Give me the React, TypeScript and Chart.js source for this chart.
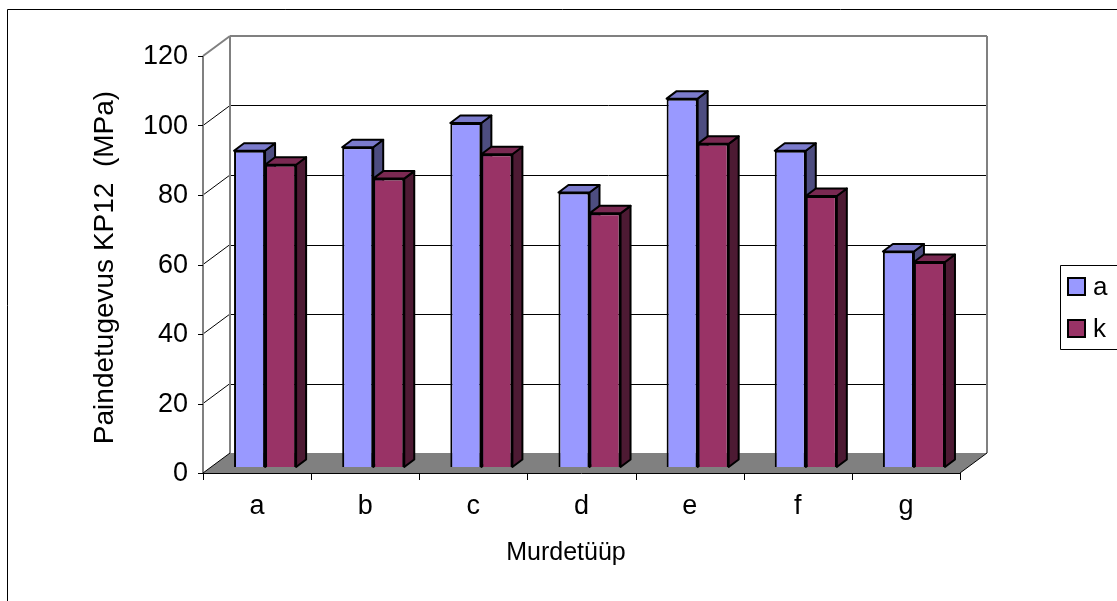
import { useEffect, useRef } from "react";
import { Chart, registerables } from "chart.js";

Chart.register(...registerables);

// Fracture types and the bending strength measured for each series
const categories = ["a", "b", "c", "d", "e", "f", "g"];
const seriesNames = ["a", "k"];
const seriesA = [91, 92, 99, 79, 106, 91, 62];
const seriesK = [87, 83, 90, 73, 93, 78, 59];
const yTicks = [0, 20, 40, 60, 80, 100, 120];

const yTitle = "Paindetugevus KP12  (MPa)";
const xTitle = "Murdetüüp";

// Front / top / side shades of each series
const faceColors = ["#9999FF", "#993366"];
const topColors = ["#7B7BCC", "#7A2952"];
const sideColors = ["#4D4D80", "#4D1A33"];

// 3D geometry (pixels)
const DEPTH_X = 27; // floor depth, horizontal component
const DEPTH_Y = -20; // floor depth, vertical component
const BAR_OFF_X = 8; // bar plane offset from the front plane
const BAR_OFF_Y = -6;
const BAR_DX = 10; // bar thickness
const BAR_DY = -7.5;

const FONT = "'Liberation Sans', Arial, sans-serif";
const WALL = "#808080";

function poly(ctx: CanvasRenderingContext2D, pts: number[][]) {
  ctx.beginPath();
  ctx.moveTo(pts[0][0], pts[0][1]);
  for (let i = 1; i < pts.length; i++) ctx.lineTo(pts[i][0], pts[i][1]);
  ctx.closePath();
}

function line(ctx: CanvasRenderingContext2D, x1: number, y1: number, x2: number, y2: number) {
  ctx.beginPath();
  ctx.moveTo(x1, y1);
  ctx.lineTo(x2, y2);
  ctx.stroke();
}

const box3d = {
  id: "box3d",
  beforeDatasetsDraw(chart: any) {
    const { ctx, chartArea: ca, scales } = chart;
    const ys = scales.y;
    const left = ca.left - BAR_OFF_X;
    const right = ca.right - BAR_OFF_X;
    const yF = (v: number) => ys.getPixelForValue(v) - BAR_OFF_Y;
    const y0 = yF(0);
    const yMax = yF(yTicks[yTicks.length - 1]);

    ctx.save();
    // floor
    ctx.fillStyle = WALL;
    poly(ctx, [
      [left, y0],
      [right, y0],
      [right + DEPTH_X, y0 + DEPTH_Y],
      [left + DEPTH_X, y0 + DEPTH_Y],
    ]);
    ctx.fill();

    // gridlines on back wall and side wall
    ctx.strokeStyle = "#000";
    ctx.lineWidth = 1;
    for (const v of yTicks) {
      if (v === 0 || v === yTicks[yTicks.length - 1]) continue;
      const yy = Math.round(yF(v) + DEPTH_Y) + 0.5;
      line(ctx, left + DEPTH_X, yy, right + DEPTH_X, yy);
      line(ctx, left, yF(v), left + DEPTH_X, yF(v) + DEPTH_Y);
    }

    // wall edges
    ctx.strokeStyle = WALL;
    ctx.lineWidth = 2;
    line(ctx, left, y0, left, yMax);
    line(ctx, left, yMax, left + DEPTH_X, yMax + DEPTH_Y);
    line(ctx, left + DEPTH_X, yMax + DEPTH_Y, right + DEPTH_X, yMax + DEPTH_Y);
    line(ctx, left + DEPTH_X, yMax + DEPTH_Y, left + DEPTH_X, y0 + DEPTH_Y);
    line(ctx, right + DEPTH_X, yMax + DEPTH_Y, right + DEPTH_X, y0 + DEPTH_Y);

    // floor edges and category axis
    ctx.strokeStyle = "#000";
    ctx.lineWidth = 1;
    line(ctx, left, y0 + 0.5, right, y0 + 0.5);
    line(ctx, left, y0, left + DEPTH_X, y0 + DEPTH_Y);
    line(ctx, right, y0, right + DEPTH_X, y0 + DEPTH_Y);

    // value axis ticks
    for (const v of yTicks) {
      const yy = Math.round(yF(v)) + 0.5;
      line(ctx, left - 5, yy, left, yy);
    }
    // category ticks
    const n = categories.length;
    const cw = (right - left) / n;
    for (let i = 0; i <= n; i++) {
      const xx = Math.round(left + i * cw) + 0.5;
      line(ctx, xx, y0, xx, y0 + 7);
    }

    // bar tops and sides, left to right so later fronts cover earlier sides
    const bars: any[] = [];
    chart.data.datasets.forEach((_: any, di: number) => {
      chart.getDatasetMeta(di).data.forEach((el: any) => bars.push({ el, di }));
    });
    bars.sort((a, b) => a.el.x - b.el.x);
    ctx.lineWidth = 2;
    ctx.lineJoin = "round";
    for (const { el, di } of bars) {
      const bl = el.x - el.width / 2;
      const br = el.x + el.width / 2;
      const top = el.y;
      const base = el.base;
      ctx.strokeStyle = "#000";
      ctx.fillStyle = sideColors[di];
      poly(ctx, [
        [br, top],
        [br + BAR_DX, top + BAR_DY],
        [br + BAR_DX, base + BAR_DY],
        [br, base],
      ]);
      ctx.fill();
      ctx.stroke();
      ctx.fillStyle = topColors[di];
      poly(ctx, [
        [bl, top],
        [bl + BAR_DX, top + BAR_DY],
        [br + BAR_DX, top + BAR_DY],
        [br, top],
      ]);
      ctx.fill();
      ctx.stroke();
    }
    ctx.restore();
  },
  afterDraw(chart: any) {
    const { ctx, chartArea: ca, scales } = chart;
    const ys = scales.y;
    const xs = scales.x;
    const left = ca.left - BAR_OFF_X;
    const yF = (v: number) => ys.getPixelForValue(v) - BAR_OFF_Y;
    const y0 = yF(0);

    ctx.save();
    ctx.fillStyle = "#000";
    ctx.font = `27px ${FONT}`;
    // value axis labels
    ctx.textAlign = "right";
    ctx.textBaseline = "middle";
    for (const v of yTicks) ctx.fillText(String(v), left - 15, yF(v) + 1);
    // category labels
    ctx.textAlign = "center";
    categories.forEach((c, i) => {
      ctx.fillText(c, xs.getPixelForValue(i) - BAR_OFF_X, y0 + 34);
    });
    // axis titles
    ctx.font = `25px ${FONT}`;
    ctx.fillText(xTitle, 566, 553);
    ctx.save();
    ctx.font = `28px ${FONT}`;
    ctx.translate(105, (yF(0) + yF(120)) / 2 + 3);
    ctx.rotate(-Math.PI / 2);
    ctx.fillText(yTitle, 0, 0);
    ctx.restore();

    // outer border
    ctx.strokeStyle = "#000";
    ctx.lineWidth = 1;
    line(ctx, 7.5, 9.5, 1200, 9.5);
    line(ctx, 7.5, 9.5, 7.5, 700);

    // legend
    line(ctx, 1060.5, 265.5, 1200, 265.5);
    line(ctx, 1060.5, 265.5, 1060.5, 349.5);
    line(ctx, 1060.5, 349.5, 1200, 349.5);
    ctx.textAlign = "left";
    ctx.font = `26px ${FONT}`;
    seriesNames.forEach((name, i) => {
      const yy = 278 + i * 42;
      ctx.fillStyle = faceColors[i];
      ctx.fillRect(1068, yy, 17, 17);
      ctx.lineWidth = 2;
      ctx.strokeRect(1068, yy, 17, 17);
      ctx.fillStyle = "#000";
      ctx.fillText(name, 1093, yy + 10);
    });
    ctx.restore();
  },
};

export default function App() {
  const ref = useRef<HTMLCanvasElement>(null);

  useEffect(() => {
    if (!ref.current) return;
    const chart = new Chart(ref.current, {
      type: "bar",
      data: {
        labels: categories,
        datasets: [seriesA, seriesK].map((d, i) => ({
          label: seriesNames[i],
          data: d,
          backgroundColor: faceColors[i],
          borderColor: "#000",
          borderWidth: 2,
          categoryPercentage: 0.574,
          barPercentage: 1,
        })),
      },
      options: {
        animation: false,
        responsive: false,
        devicePixelRatio: 1,
        events: [],
        layout: { padding: { left: 211, right: 149, top: 50, bottom: 134 } },
        plugins: { legend: { display: false }, tooltip: { enabled: false }, title: { display: false } },
        scales: {
          x: { display: false, offset: true },
          y: { display: false, min: 0, max: 120 },
        },
      },
      plugins: [box3d],
    });
    return () => chart.destroy();
  }, []);

  return (
    <div style={{ position: "fixed", left: 0, top: 0, width: 1117, height: 601, background: "#fff" }}>
      <canvas ref={ref} width={1117} height={601} style={{ display: "block" }} />
    </div>
  );
}
